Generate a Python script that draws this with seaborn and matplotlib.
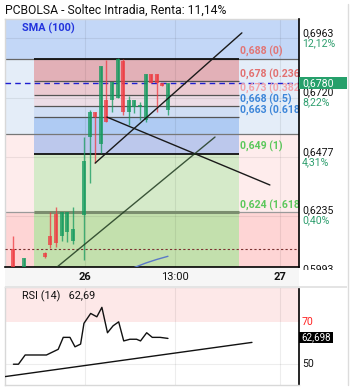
import numpy as np
import matplotlib
matplotlib.use("Agg")
import matplotlib.pyplot as plt
import matplotlib.transforms as mtransforms
from matplotlib.patches import Rectangle
from matplotlib.lines import Line2D
import seaborn as sns

# ==============================
# DATA
# ==============================
candle_slot = [-12.6, -10.7, -7, -6, -5, -4, -3, -2, 0, 1, 2, 3, 4, 5, 6, 7, 8, 9, 10, 11, 12, 13, 14, 15]
open_px = [0.6098, 0.6010, 0.6081, 0.6151, 0.6241, 0.6151, 0.6167, 0.6131, 0.6237, 0.6558, 0.6661, 0.6529,
           0.6710, 0.6710, 0.6718, 0.6871, 0.6661, 0.6681, 0.6681, 0.6628, 0.6817, 0.6817, 0.6780, 0.6669]
high_px = [0.6151, 0.6061, 0.6085, 0.6250, 0.6270, 0.6250, 0.6250, 0.6270, 0.6558, 0.6669, 0.6661, 0.6850,
           0.6875, 0.6784, 0.6883, 0.6879, 0.6727, 0.6710, 0.6702, 0.6817, 0.6817, 0.6817, 0.6780, 0.6780]
low_px = [0.6005, 0.6005, 0.6062, 0.6102, 0.6106, 0.6131, 0.6127, 0.6118, 0.6053, 0.6369, 0.6451, 0.6492,
          0.6620, 0.6661, 0.6718, 0.6649, 0.6607, 0.6657, 0.6628, 0.6620, 0.6780, 0.6661, 0.6768, 0.6649]
close_px = [0.6010, 0.6061, 0.6065, 0.6114, 0.6122, 0.6250, 0.6250, 0.6180, 0.6459, 0.6661, 0.6640, 0.6850,
            0.6620, 0.6784, 0.6879, 0.6661, 0.6710, 0.6710, 0.6690, 0.6817, 0.6780, 0.6780, 0.6768, 0.6780]

sma_slot = [9, 11, 13, 15]
sma_val = [0.6022, 0.6040, 0.6055, 0.6068]

# background zones (full width) and fibonacci retracement
zone_edges = [0.7043, 0.688, 0.657, 0.6249, 0.6024]
fib_values = [0.688, 0.6788, 0.6731, 0.6685, 0.6639, 0.649, 0.6249]
fib_labels = ["0,688 (0)", "0,678 (0.236)", "0,673 (0.382)", "0,668 (0.5)", "0,663 (0.618)", "0,649 (1)", "0,624 (1.618)"]
fib_band_edges = [0.688, 0.6788, 0.6731, 0.6685, 0.6639, 0.657, 0.649, 0.6249, 0.6024]
fib_start, fib_end = -8.9, 27.7

# trend lines (slot, price)
trend_a = ([2.0, 28.2], [0.6451, 0.6986])
trend_b = ([4.1, 33.2], [0.6640, 0.6361])
trend_c = ([-4.8, 23.4], [0.6024, 0.6558])

last_price = 0.6780
support_dotted = 0.6098

price_ticks = [0.6963, 0.6720, 0.6477, 0.6235, 0.5993]
price_tick_labels = ["0,6963", "0,6720", "0,6477", "0,6235", "0,5993"]
pct_tick_labels = ["12,12%", "8,22%", "4,31%", "0,40%", ""]

time_ticks = [0.2, 16.2, 35]
time_labels = ["26", "13:00", "27"]

rsi_slot = [-12.6, -11.7, -10.5, -6.7, -4.6, -3.7, -2.5, -1.6, -0.6, 0, 1.2, 2.3, 3.2, 4.2, 5.2, 6.2,
            7.1, 8.2, 9.4, 10.1, 11.2, 12.2, 13.6, 15]
rsi_val = [49.9, 49.9, 54.3, 54.3, 57.0, 62.7, 62.7, 58.2, 59.5, 69.4, 74.1, 72.5, 77.0, 64.9, 68.2, 70.1,
           61.0, 61.8, 61.8, 61.0, 64.9, 62.7, 62.7, 62.2]
rsi_trend = ([-14.1, 30], [44.0, 60.3])
rsi_last = 62.698

# ==============================
# STYLE / LAYOUT
# ==============================
sns.set_theme(style="white")
plt.rcParams['font.family'] = ['Roboto', 'DejaVu Sans']

W, H = 353, 390
fig = plt.figure(figsize=(W / 100, H / 100), dpi=100)
fig.patch.set_facecolor("white")


def fig_box(x0, y0, x1, y1):
    # pixel box (top-left origin) -> figure fraction rect
    return [x0 / W, 1 - y1 / H, (x1 - x0) / W, (y1 - y0) / H]


# x-axis label strip + separator (drawn over the price axes' overflow labels)
fig.patches.append(Rectangle((5 / W, 1 - 286 / H), 294 / W, 18.4 / H, transform=fig.transFigure,
                             fc="#f6f6f6", ec="none", zorder=1))
fig.patches.append(Rectangle((299.6 / W, 1 - 286 / H), 47.5 / W, 16.5 / H, transform=fig.transFigure,
                             fc="white", ec="none", zorder=1))
fig.patches.append(Rectangle((5 / W, 1 - 288 / H), 342 / W, 2.5 / H, transform=fig.transFigure,
                             fc="#e4e4e4", ec="none", zorder=1))
fig.lines.append(Line2D([347.5 / W, 347.5 / W], [1 - 4 / H, 1 - 385 / H], transform=fig.transFigure,
                        color="#dcdcdc", lw=1, zorder=1))

ax = fig.add_axes(fig_box(5, 19, 299, 267))
rsi_ax = fig.add_axes(fig_box(5, 287, 299, 385))

x_min, x_max = -14.1, 38.4
ax.set_xlim(x_min, x_max)
ax.set_ylim(zone_edges[-1], zone_edges[0])

# background zones
zone_colors = ["#c3d7f7", "#e4edf8", "#feecec", "#fed5d5"]
for top, bottom, c in zip(zone_edges[:-1], zone_edges[1:], zone_colors):
    ax.axhspan(bottom, top, color=c, lw=0, zorder=0)

fib_colors = ["#e2b0b7", "#ebcad1", "#ecdde6", "#d0def4", "#afcbf3", "#bcc8ec", "#d5eac9", "#c3e0ad"]
for top, bottom, c in zip(fib_band_edges[:-1], fib_band_edges[1:], fib_colors):
    ax.fill_between([fib_start, fib_end], bottom, top, color=c, lw=0, zorder=0.5)

# grid
for t in price_ticks:
    ax.axhline(t, color="#000000", alpha=0.07, lw=0.8, zorder=1)
for t in time_ticks:
    ax.axvline(t, color="#000000", alpha=0.07, lw=0.8, zorder=1)
    rsi_ax.axvline(t, color="#000000", alpha=0.07, lw=0.8, zorder=1)

# zone boundary lines
for v, c in zip(zone_edges[1:-1], ["#666666", "#777777", "#9a9a9a"]):
    ax.axhline(v, color=c, lw=0.9, zorder=1.5)

# fib lines
fib_line_colors = ["#111111", "#555555", "#555555", "#555555", "#555555", "#111111", "#7b8e6f"]
fib_line_widths = [1.3, 0.9, 0.9, 0.9, 0.9, 1.3, 2.2]
for v, c, lw in zip(fib_values, fib_line_colors, fib_line_widths):
    ax.plot([fib_start, fib_end], [v, v], color=c, lw=lw, zorder=2, solid_capstyle="butt")

fib_text_colors = ["#e27575", "#e27070", "#f2a3aa", "#3d86d9", "#3d86d9", "#5cc85c", "#5cc85c"]
for v, lab, c in zip(fib_values, fib_labels, fib_text_colors):
    ax.annotate(lab, xy=(fib_end, v), xytext=(1, 7), textcoords="offset pixels",
                ha="left", va="center", fontsize=7.6, fontweight="bold", color=c,
                annotation_clip=False, clip_on=True, zorder=6)

# horizontal reference lines
ax.axhline(last_price, color="#1f1fd0", lw=1.0, ls=(0, (4, 3)), zorder=3)
ax.axhline(support_dotted, color="#7a3030", lw=0.8, ls=(0, (2, 2)), zorder=3)

# candles
for s, o, h, l, c in zip(candle_slot, open_px, high_px, low_px, close_px):
    col = "#149a5e" if c >= o else "#ee3a40"
    ax.vlines(s, l, h, color=col, lw=1, alpha=0.75, zorder=4)
    ax.bar(s, abs(c - o) if abs(c - o) > 0.0002 else 0.0002, bottom=min(o, c), width=0.72,
           color=col, alpha=0.75, lw=0, zorder=4)

# trend lines and SMA
for tx, ty in [trend_a, trend_b]:
    sns.lineplot(x=tx, y=ty, ax=ax, color="#1a1a1a", lw=1, zorder=5)
sns.lineplot(x=trend_c[0], y=trend_c[1], ax=ax, color="#1f3a1f", lw=1, alpha=0.85, zorder=5)
sns.lineplot(x=sma_slot, y=sma_val, ax=ax, color="#5a78c8", lw=1, zorder=5)

ax.text(17 / 294, 1 - 9 / 248, "SMA (100)", transform=ax.transAxes, fontsize=7.8, fontweight="bold",
        color="#2233dd", ha="left", va="center")

# axis cosmetics
ax.set_xticks([])
ax.set_yticks([])
ax.set_xlabel("")
ax.set_ylabel("")
for side in ["left", "top"]:
    ax.spines[side].set_color("#d8d8d8")
    ax.spines[side].set_linewidth(1)
ax.spines["right"].set_color("black")
ax.spines["bottom"].set_color("black")
ax.spines["right"].set_linewidth(1.2)
ax.spines["bottom"].set_linewidth(1.2)
ax.spines["right"].set_zorder(8)

# right price scale labels
ylab_tr = mtransforms.blended_transform_factory(ax.transAxes, ax.transData)
for t, pl, pc in zip(price_ticks, price_tick_labels, pct_tick_labels):
    ax.annotate(pl, xy=(1, t), xycoords=ylab_tr, xytext=(3, 5), textcoords="offset pixels",
                ha="left", va="center", fontsize=7.6, color="#111111", annotation_clip=False)
    if pc:
        ax.annotate(pc, xy=(1, t), xycoords=ylab_tr, xytext=(3, -5), textcoords="offset pixels",
                    ha="left", va="center", fontsize=7.6, color="#2e9e6e", annotation_clip=False)

# last price box
box_tr = mtransforms.blended_transform_factory(fig.transFigure, ax.transData)
half = 6 / (248 / (zone_edges[0] - zone_edges[-1]))
ax.add_patch(Rectangle((299 / W, last_price - half), 48 / W, 2 * half, transform=box_tr,
                       fc="#26a06b", ec="none", clip_on=False, zorder=9))
ax.annotate("0,6780", xy=(1, last_price), xycoords=ylab_tr, xytext=(3, 0), textcoords="offset pixels",
            ha="left", va="center", fontsize=7.6, color="white", annotation_clip=False, zorder=10)

# time labels (figure level, above the strip)
time_tr = mtransforms.blended_transform_factory(ax.transData, fig.transFigure)
for t, lab in zip(time_ticks, time_labels):
    fig.text(t, 1 - 277 / H, lab, transform=time_tr, ha="center", va="center", fontsize=8,
             fontweight="bold" if lab != "13:00" else "normal", color="#111111", zorder=3)

# title
fig.text(5 / W, 1 - 10 / H, "PCBOLSA - Soltec Intradia, Renta: 11,14%", fontsize=8.7, color="#111111",
         ha="left", va="center")

# ==============================
# RSI PANEL
# ==============================
rsi_ax.set_xlim(x_min, x_max)
rsi_ax.set_ylim(40, 86.7)
rsi_ax.axhspan(70, 86.7, color="#fde8e8", lw=0, zorder=0)
rsi_ax.axhline(50, color="#000000", alpha=0.07, lw=0.8, zorder=1)
sns.lineplot(x=rsi_slot, y=rsi_val, ax=rsi_ax, color="#111111", lw=1, zorder=3)
sns.lineplot(x=rsi_trend[0], y=rsi_trend[1], ax=rsi_ax, color="#111111", lw=1, zorder=3)
rsi_ax.set_xticks([])
rsi_ax.set_yticks([])
rsi_ax.set_xlabel("")
rsi_ax.set_ylabel("")
for side in ["left", "top", "bottom"]:
    rsi_ax.spines[side].set_color("#d8d8d8")
    rsi_ax.spines[side].set_linewidth(1)
rsi_ax.spines["right"].set_color("black")
rsi_ax.spines["right"].set_linewidth(1.2)

rsi_ax.text(17 / 294, 1 - 9 / 98, "RSI (14)   62,69", transform=rsi_ax.transAxes, fontsize=7.8,
            color="#111111", ha="left", va="center")
rsi_tr = mtransforms.blended_transform_factory(rsi_ax.transAxes, rsi_ax.transData)
rsi_ax.annotate("70", xy=(1, 70), xycoords=rsi_tr, xytext=(3, 0), textcoords="offset pixels",
                ha="left", va="center", fontsize=7.6, color="#ff2020", annotation_clip=False)
rsi_ax.annotate("50", xy=(1, 50), xycoords=rsi_tr, xytext=(3, 0), textcoords="offset pixels",
                ha="left", va="center", fontsize=7.6, color="#111111", annotation_clip=False)
rsi_box_tr = mtransforms.blended_transform_factory(fig.transFigure, rsi_ax.transData)
rhalf = 5.5 / (98 / (86.7 - 40))
rsi_ax.add_patch(Rectangle((299 / W, rsi_last - rhalf), 34 / W, 2 * rhalf, transform=rsi_box_tr,
                           fc="black", ec="none", clip_on=False, zorder=9))
rsi_ax.annotate("62,698", xy=(1, rsi_last), xycoords=rsi_tr, xytext=(2, 0), textcoords="offset pixels",
                ha="left", va="center", fontsize=7.0, color="white", annotation_clip=False, zorder=10)

fig.savefig("out.png", dpi=100)
